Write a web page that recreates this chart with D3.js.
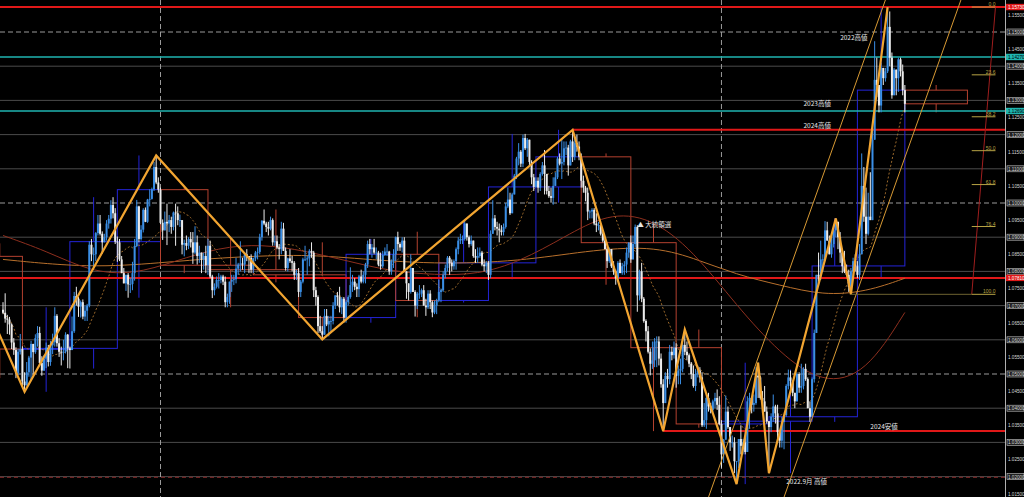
<!DOCTYPE html>
<html><head><meta charset="utf-8">
<script src="https://cdn.jsdelivr.net/npm/d3@7"></script>
<style>html,body{margin:0;padding:0;background:#000;overflow:hidden}svg{display:block}</style>
</head><body><svg id="c" width="1024" height="497"></svg>
<script>
// ---------------- DATA ----------------
// EURUSD daily candles [high, low, close]; open = previous close
const firstOpen = 1.0688;
const candles = [
// 2023-09 (19th..)
[1.0710,1.0675,1.0679],[1.0736,1.0650,1.0662],[1.0673,1.0617,1.0659],[1.0667,1.0615,1.0645],[1.0648,1.0573,1.0592],[1.0605,1.0556,1.0570],[1.0578,1.0488,1.0502],[1.0574,1.0496,1.0565],[1.0617,1.0557,1.0573],
// 2023-10
[1.0581,1.0465,1.0478],[1.0505,1.0448,1.0467],[1.0535,1.0466,1.0505],[1.0553,1.0492,1.0548],[1.0597,1.0482,1.0588],[1.0578,1.0495,1.0564],[1.0616,1.0559,1.0605],[1.0640,1.0580,1.0620],[1.0638,1.0525,1.0532],[1.0552,1.0495,1.0510],[1.0556,1.0509,1.0545],[1.0592,1.0517,1.0577],[1.0585,1.0522,1.0535],[1.0597,1.0524,1.0584],[1.0618,1.0558,1.0593],[1.0695,1.0580,1.0670],[1.0675,1.0580,1.0590],[1.0605,1.0550,1.0565],[1.0580,1.0525,1.0563],[1.0600,1.0540,1.0565],[1.0622,1.0560,1.0615],[1.0617,1.0517,1.0575],
// 2023-11
[1.0580,1.0516,1.0570],[1.0668,1.0570,1.0625],[1.0740,1.0620,1.0728],[1.0755,1.0700,1.0720],[1.0725,1.0667,1.0697],[1.0715,1.0665,1.0710],[1.0718,1.0660,1.0668],[1.0700,1.0655,1.0685],[1.0705,1.0655,1.0700],[1.0888,1.0695,1.0878],[1.0895,1.0830,1.0850],[1.0870,1.0810,1.0850],[1.0915,1.0830,1.0912],[1.0965,1.0905,1.0940],[1.0965,1.0905,1.0910],[1.0917,1.0852,1.0885],[1.0910,1.0885,1.0900],[1.0950,1.0890,1.0940],[1.0965,1.0925,1.0954],[1.1008,1.0940,1.0994],[1.1017,1.0955,1.0970],[1.0985,1.0880,1.0887],
// 2023-12
[1.0902,1.0828,1.0885],[1.0895,1.0830,1.0835],[1.0845,1.0795,1.0795],[1.0810,1.0765,1.0765],[1.0790,1.0743,1.0790],[1.0795,1.0723,1.0762],[1.0780,1.0737,1.0763],[1.0828,1.0745,1.0795],[1.0895,1.0773,1.0874],[1.1009,1.0871,1.0990],[1.0992,1.0885,1.0895],[1.0935,1.0890,1.0922],[1.0985,1.0914,1.0980],[1.0987,1.0944,1.0945],[1.1012,1.0942,1.1010],[1.1040,1.0990,1.1012],[1.1045,1.1010,1.1040],[1.1120,1.1035,1.1105],[1.1139,1.1055,1.1060],[1.1075,1.1030,1.1039],
// 2024-01
[1.1045,1.0938,1.0942],[1.0952,1.0892,1.0920],[1.0975,1.0924,1.0945],[1.0998,1.0877,1.0940],[1.0965,1.0915,1.0950],[1.0960,1.0910,1.0930],[1.0975,1.0920,1.0972],[1.0998,1.0875,1.0970],[1.0990,1.0935,1.0950],[1.0966,1.0930,1.0950],[1.0945,1.0850,1.0878],[1.0893,1.0844,1.0883],[1.0905,1.0862,1.0875],[1.0900,1.0865,1.0895],[1.0915,1.0870,1.0885],[1.0915,1.0822,1.0855],[1.0932,1.0850,1.0885],[1.0905,1.0820,1.0845],[1.0875,1.0825,1.0855],[1.0848,1.0795,1.0835],[1.0855,1.0805,1.0845],[1.0875,1.0795,1.0818],
// 2024-02
[1.0895,1.0790,1.0875],[1.0890,1.0780,1.0785],[1.0790,1.0722,1.0745],[1.0765,1.0730,1.0755],[1.0785,1.0750,1.0775],[1.0795,1.0750,1.0775],[1.0790,1.0765,1.0785],[1.0790,1.0760,1.0770],[1.0785,1.0695,1.0710],[1.0735,1.0695,1.0725],[1.0770,1.0705,1.0770],[1.0790,1.0740,1.0775],[1.0790,1.0760,1.0777],[1.0840,1.0765,1.0808],[1.0825,1.0790,1.0820],[1.0888,1.0800,1.0823],[1.0840,1.0805,1.0820],[1.0855,1.0795,1.0850],[1.0865,1.0830,1.0845],[1.0845,1.0795,1.0840],[1.0850,1.0795,1.0805],
// 2024-03
[1.0840,1.0795,1.0838],[1.0860,1.0830,1.0855],[1.0870,1.0835,1.0857],[1.0910,1.0850,1.0900],[1.0950,1.0890,1.0948],[1.0981,1.0935,1.0940],[1.0945,1.0915,1.0930],[1.0945,1.0905,1.0925],[1.0960,1.0920,1.0950],[1.0955,1.0875,1.0885],[1.0905,1.0875,1.0888],[1.0905,1.0865,1.0870],[1.0880,1.0835,1.0865],[1.0945,1.0850,1.0925],[1.0942,1.0860,1.0860],[1.0870,1.0802,1.0810],[1.0840,1.0800,1.0838],[1.0865,1.0825,1.0830],[1.0845,1.0800,1.0825],[1.0830,1.0775,1.0790],[1.0805,1.0775,1.0795],
// 2024-04
[1.0810,1.0725,1.0740],[1.0775,1.0725,1.0770],[1.0840,1.0765,1.0835],[1.0875,1.0830,1.0835],[1.0845,1.0790,1.0838],[1.0865,1.0815,1.0860],[1.0885,1.0840,1.0855],[1.0860,1.0725,1.0745],[1.0755,1.0700,1.0725],[1.0730,1.0620,1.0640],[1.0670,1.0620,1.0625],[1.0640,1.0601,1.0615],[1.0690,1.0615,1.0670],[1.0690,1.0640,1.0645],[1.0670,1.0610,1.0655],[1.0670,1.0625,1.0655],[1.0710,1.0645,1.0700],[1.0730,1.0690,1.0730],[1.0740,1.0700,1.0725],[1.0755,1.0680,1.0695],[1.0725,1.0675,1.0720],[1.0725,1.0650,1.0665],
// 2024-05
[1.0715,1.0650,1.0710],[1.0730,1.0700,1.0725],[1.0812,1.0720,1.0760],[1.0790,1.0740,1.0770],[1.0780,1.0745,1.0755],[1.0765,1.0725,1.0748],[1.0790,1.0725,1.0785],[1.0805,1.0765,1.0770],[1.0800,1.0765,1.0790],[1.0825,1.0765,1.0820],[1.0890,1.0810,1.0880],[1.0895,1.0850,1.0865],[1.0880,1.0840,1.0870],[1.0895,1.0850,1.0855],[1.0870,1.0835,1.0855],[1.0860,1.0815,1.0820],[1.0855,1.0805,1.0815],[1.0860,1.0810,1.0848],[1.0870,1.0845,1.0858],[1.0880,1.0845,1.0858],[1.0860,1.0790,1.0800],[1.0835,1.0790,1.0830],[1.0865,1.0810,1.0850],
// 2024-06
[1.0902,1.0830,1.0900],[1.0916,1.0860,1.0880],[1.0885,1.0860,1.0870],[1.0900,1.0855,1.0890],[1.0900,1.0800,1.0800],[1.0790,1.0720,1.0765],[1.0765,1.0715,1.0740],[1.0850,1.0735,1.0810],[1.0810,1.0745,1.0740],[1.0745,1.0668,1.0700],[1.0740,1.0690,1.0735],[1.0760,1.0720,1.0735],[1.0750,1.0725,1.0745],[1.0760,1.0700,1.0700],[1.0720,1.0670,1.0695],[1.0745,1.0690,1.0735],[1.0745,1.0690,1.0710],[1.0715,1.0666,1.0680],[1.0715,1.0675,1.0700],[1.0720,1.0675,1.0715],
// 2024-07
[1.0775,1.0710,1.0740],[1.0750,1.0710,1.0745],[1.0800,1.0740,1.0790],[1.0820,1.0780,1.0810],[1.0845,1.0800,1.0840],[1.0845,1.0790,1.0825],[1.0835,1.0800,1.0815],[1.0835,1.0805,1.0830],[1.0870,1.0805,1.0865],[1.0900,1.0850,1.0890],[1.0910,1.0880,1.0895],[1.0905,1.0880,1.0895],[1.0948,1.0890,1.0940],[1.0940,1.0890,1.0900],[1.0905,1.0870,1.0880],[1.0905,1.0875,1.0890],[1.0890,1.0840,1.0845],[1.0865,1.0825,1.0840],[1.0870,1.0825,1.0845],[1.0870,1.0840,1.0855],[1.0860,1.0815,1.0820],[1.0835,1.0800,1.0815],[1.0830,1.0795,1.0825],
// 2024-08
[1.0830,1.0775,1.0790],[1.0920,1.0780,1.0910],[1.1008,1.0910,1.0955],[1.0965,1.0920,1.0930],[1.0945,1.0905,1.0925],[1.0940,1.0885,1.0920],[1.0935,1.0905,1.0915],[1.0940,1.0905,1.0930],[1.1000,1.0925,1.0990],[1.1045,1.0985,1.1010],[1.1030,1.0965,1.0970],[1.1030,1.0970,1.1025],[1.1085,1.1025,1.1080],[1.1135,1.1070,1.1130],[1.1175,1.1110,1.1150],[1.1155,1.1105,1.1115],[1.1200,1.1105,1.1190],[1.1202,1.1155,1.1160],[1.1190,1.1135,1.1185],[1.1185,1.1105,1.1120],[1.1125,1.1055,1.1075],[1.1085,1.1035,1.1047],
// 2024-09
[1.1075,1.1045,1.1065],[1.1075,1.1030,1.1045],[1.1090,1.1035,1.1085],[1.1120,1.1080,1.1110],[1.1155,1.1025,1.1085],[1.1085,1.1025,1.1035],[1.1050,1.1015,1.1020],[1.1045,1.1001,1.1015],[1.1075,1.0995,1.1050],[1.1090,1.1055,1.1075],[1.1135,1.1070,1.1130],[1.1145,1.1110,1.1115],[1.1190,1.1070,1.1120],[1.1180,1.1110,1.1160],[1.1180,1.1140,1.1162],[1.1170,1.1080,1.1110],[1.1185,1.1110,1.1180],[1.1214,1.1120,1.1135],[1.1190,1.1125,1.1175],[1.1200,1.1150,1.1165],[1.1180,1.1125,1.1135],
// 2024-10
[1.1145,1.1045,1.1065],[1.1080,1.1030,1.1045],[1.1050,1.1005,1.1030],[1.1045,1.0950,1.0975],[1.0980,1.0955,1.0975],[1.0985,1.0955,1.0980],[1.0985,1.0935,1.0940],[1.0970,1.0915,1.0935],[1.0945,1.0920,1.0935],[1.0935,1.0905,1.0910],[1.0915,1.0885,1.0890],[1.0895,1.0865,1.0865],[1.0870,1.0810,1.0830],[1.0870,1.0825,1.0865],[1.0865,1.0810,1.0815],[1.0830,1.0790,1.0800],[1.0805,1.0761,1.0780],[1.0830,1.0775,1.0825],[1.0835,1.0800,1.0795],[1.0825,1.0790,1.0815],[1.0830,1.0790,1.0820],[1.0870,1.0795,1.0855],[1.0885,1.0840,1.0884],
// 2024-11
[1.0905,1.0825,1.0835],[1.0905,1.0860,1.0880],[1.0937,1.0870,1.0930],[1.0935,1.0682,1.0730],[1.0805,1.0715,1.0800],[1.0825,1.0710,1.0720],[1.0725,1.0650,1.0655],[1.0660,1.0595,1.0625],[1.0640,1.0560,1.0565],[1.0575,1.0496,1.0530],[1.0595,1.0515,1.0540],[1.0605,1.0520,1.0595],[1.0610,1.0520,1.0595],[1.0610,1.0525,1.0545],[1.0560,1.0460,1.0470],[1.0485,1.0333,1.0415],[1.0505,1.0425,1.0495],[1.0515,1.0460,1.0485],[1.0585,1.0470,1.0565],[1.0580,1.0540,1.0555],[1.0595,1.0545,1.0577],
// 2024-12
[1.0590,1.0460,1.0495],[1.0525,1.0470,1.0510],[1.0545,1.0470,1.0515],[1.0590,1.0505,1.0585],[1.0630,1.0555,1.0565],[1.0595,1.0540,1.0555],[1.0560,1.0520,1.0530],[1.0535,1.0485,1.0500],[1.0525,1.0460,1.0465],[1.0515,1.0450,1.0500],[1.0525,1.0490,1.0510],[1.0520,1.0475,1.0490],[1.0505,1.0345,1.0350],[1.0415,1.0345,1.0365],[1.0440,1.0340,1.0430],[1.0445,1.0390,1.0405],[1.0415,1.0385,1.0395],[1.0425,1.0390,1.0420],[1.0445,1.0400,1.0430],[1.0455,1.0395,1.0410],[1.0435,1.0350,1.0354],
// 2025-01
[1.0365,1.0226,1.0265],[1.0310,1.0240,1.0308],[1.0437,1.0310,1.0390],[1.0405,1.0340,1.0345],[1.0345,1.0275,1.0300],[1.0320,1.0285,1.0300],[1.0315,1.0210,1.0245],[1.0245,1.0178,1.0245],[1.0310,1.0225,1.0310],[1.0350,1.0265,1.0290],[1.0310,1.0265,1.0300],[1.0315,1.0265,1.0272],[1.0435,1.0275,1.0420],[1.0445,1.0340,1.0430],[1.0430,1.0385,1.0410],[1.0440,1.0390,1.0415],[1.0520,1.0410,1.0495],[1.0533,1.0430,1.0490],[1.0495,1.0425,1.0430],[1.0450,1.0385,1.0420],[1.0465,1.0395,1.0390],[1.0405,1.0355,1.0362],
// 2025-02
[1.0345,1.0210,1.0345],[1.0385,1.0330,1.0375],[1.0440,1.0360,1.0405],[1.0410,1.0355,1.0385],[1.0410,1.0300,1.0330],[1.0335,1.0285,1.0305],[1.0375,1.0285,1.0360],[1.0380,1.0280,1.0380],[1.0470,1.0375,1.0465],[1.0513,1.0455,1.0490],[1.0510,1.0450,1.0480],[1.0480,1.0435,1.0445],[1.0445,1.0400,1.0420],[1.0505,1.0420,1.0500],[1.0505,1.0445,1.0460],[1.0530,1.0445,1.0465],[1.0520,1.0455,1.0515],[1.0530,1.0480,1.0485],[1.0490,1.0400,1.0400],[1.0420,1.0360,1.0375],
// 2025-03
[1.0490,1.0380,1.0485],[1.0630,1.0475,1.0620],[1.0790,1.0620,1.0790],[1.0855,1.0760,1.0785],[1.0890,1.0775,1.0835],[1.0850,1.0800,1.0835],[1.0947,1.0830,1.0920],[1.0945,1.0890,1.0890],[1.0905,1.0850,1.0850],[1.0905,1.0840,1.0880],[1.0925,1.0870,1.0920],[1.0955,1.0900,1.0945],[1.0945,1.0865,1.0900],[1.0915,1.0825,1.0855],[1.0860,1.0795,1.0815],[1.0860,1.0795,1.0800],[1.0820,1.0785,1.0790],[1.0805,1.0740,1.0755],[1.0810,1.0733,1.0800],[1.0840,1.0780,1.0830],[1.0850,1.0800,1.0815],
// 2025-04
[1.0830,1.0780,1.0790],[1.0880,1.0775,1.0850],[1.1145,1.0850,1.1050],[1.1105,1.0945,1.0960],[1.1045,1.0880,1.0910],[1.1030,1.0905,1.0960],[1.1090,1.0955,1.0950],[1.1215,1.0955,1.1185],[1.1473,1.1190,1.1360],[1.1425,1.1310,1.1345],[1.1340,1.1265,1.1285],[1.1410,1.1265,1.1395],[1.1395,1.1345,1.1365],[1.1395,1.1355,1.1385],[1.1573,1.1380,1.1515],[1.1560,1.1400,1.1425],[1.1440,1.1305,1.1315],[1.1395,1.1320,1.1390],[1.1390,1.1315,1.1365],[1.1425,1.1325,1.1420],[1.1425,1.1370,1.1385],[1.1405,1.1315,1.1330],
// 2025-05
[1.1345,1.1265,1.1290]
];

// Monthly candle boxes (bar index of month start; last entry = end of May in future bars)
const monthStarts = [-12, 9, 31, 53, 73, 95, 116, 137, 159, 182, 202, 225, 247, 268, 291, 312, 333, 355, 375, 396, 418, 447];
const mOpen  = [1.0844,1.0573,1.0575,1.0887,1.1039,1.0818,1.0805,1.0790,1.0665,1.0850,1.0715,1.0825,1.1047,1.1135,1.0884,1.0577,1.0354,1.0362,1.0375,1.0816,1.1330];
const mHigh  = [1.0882,1.0695,1.1017,1.1139,1.1046,1.0898,1.0981,1.0885,1.0895,1.0916,1.0948,1.1202,1.1214,1.1145,1.0937,1.0630,1.0533,1.0513,1.0955,1.1573,1.1345];
const mLow   = [1.0488,1.0448,1.0516,1.0723,1.0795,1.0695,1.0768,1.0601,1.0650,1.0666,1.0709,1.0777,1.1001,1.0761,1.0333,1.0343,1.0178,1.0210,1.0360,1.0778,1.1265];
const mClose = [1.0573,1.0575,1.0887,1.1039,1.0818,1.0805,1.0790,1.0665,1.0850,1.0715,1.0825,1.1047,1.1135,1.0884,1.0577,1.0354,1.0362,1.0375,1.0816,1.1330,1.1290];

// Zigzag pivots [bar index, price]
const zigzag = [[-20,1.0880],[10,1.0448],[71,1.1139],[148,1.0601],[264,1.1214],[306,1.0333],[316,1.0630],[340,1.0178],[350,1.0533],[355,1.0210],[386,1.0955],[393,1.0733],[410,1.1573]];

// Parallel channel lines [[index, price],[index, price]]
const channels = [[[327,1.0140],[409,1.1594]],[[362,1.0140],[444,1.1594]]];

// Moving averages sampled [bar index, price]
const ma100 = [[0,1.0905],[20,1.0860],[40,1.0800],[60,1.0790],[80,1.0830],[100,1.0870],[120,1.0880],[140,1.0860],[160,1.0830],[180,1.0800],[200,1.0790],[220,1.0790],[240,1.0830],[260,1.0900],[280,1.0970],[300,1.0960],[320,1.0860],[340,1.0700],[360,1.0560],[380,1.0470],[400,1.0500],[418,1.0680]];
const ma200 = [[0,1.0835],[40,1.0810],[73,1.0825],[100,1.0840],[137,1.0850],[160,1.0840],[200,1.0820],[240,1.0830],[270,1.0860],[300,1.0875],[320,1.0840],[340,1.0790],[360,1.0760],[380,1.0730],[400,1.0740],[418,1.0780]];
const maPeriod = 20;

// Horizontal price levels
const gridPrices = d3.range(102, 116).map(v => v / 100);
const majorGrid = [1.05, 1.10, 1.15];
const yearStarts = [73, 333];
const levels = [
  {p: 1.1573, kind: "red", from: null},
  {p: 1.1427, kind: "cyan", from: null},
  {p: 1.1269, kind: "cyan", from: null},
  {p: 1.1214, kind: "red", from: 264},
  {p: 1.0781, kind: "red", from: null},
  {p: 1.0333, kind: "red", from: 306},
  {p: 1.0198, kind: "dash", from: null}
];
const notes = [
  {text: "2022高値", i: 388, p: 1.1500, dy: 8},
  {text: "2023高値", i: 371, p: 1.1269, dy: -5},
  {text: "2024高値", i: 371, p: 1.1214, dy: -2},
  {text: "2024安値", i: 402, p: 1.0333, dy: -2},
  {text: "2022.9月 高値", i: 363, p: 1.0198, dy: 7},
  {text: "▲ 大統領選", i: 294, p: 1.0937, dy: 2}
];
const fibRatios = [0, 23.6, 38.2, 50.0, 61.8, 76.4, 100.0];
const fibLabels = ["0.0", "23.6", "38.2", "50.0", "61.8", "76.4", "100.0"];
const fibAnchor = {i0: 449, low: 1.0733, i1: 460, high: 1.1573, lowBar: 393};
const axisTicks = d3.range(203, 232).map(v => v / 200);
const axisTags = [{p: 1.1573, kind: "red"}, {p: 1.1427, kind: "cyan"}, {p: 1.1269, kind: "cyan"}, {p: 1.0781, kind: "red"}];

// ---------------- DRAW ----------------
const W = 1024, H = 497, PR = 1005;
const svg = d3.select("#c");
svg.append("rect").attr("width", W).attr("height", H).attr("fill", "#000");
svg.append("clipPath").attr("id", "clip").append("rect").attr("width", PR).attr("height", H);
const x = d3.scaleLinear().domain([0, 410]).range([3, 887.6]);
const y = d3.scaleLinear().domain([1.02, 1.15]).range([476.6, 32]);
const g = svg.append("g").attr("clip-path", "url(#clip)");

const COL = {red: "#e01818", cyan: "#1fb5b0", dash: "#8a2a2a", bull: "#3b8fe6", bear: "#ececec",
  boxBull: "#2424d8", boxBear: "#b4412f", zig: "#f2a531", chan: "#d89a34", fib: "#b8a445"};

// grid
g.selectAll(".hg").data(gridPrices).join("line")
  .attr("x1", 0).attr("x2", PR).attr("y1", d => y(d)).attr("y2", d => y(d))
  .attr("stroke", d => majorGrid.some(m => Math.abs(m - d) < 1e-6) ? "#9a9a9a" : "#4a4a4a")
  .attr("stroke-dasharray", d => majorGrid.some(m => Math.abs(m - d) < 1e-6) ? "5,3" : null)
  .attr("stroke-width", 1);
g.selectAll(".vg").data(yearStarts).join("line")
  .attr("x1", d => x(d)).attr("x2", d => x(d)).attr("y1", 0).attr("y2", H)
  .attr("stroke", "#9a9a9a").attr("stroke-dasharray", "5,3");

// monthly boxes
const months = mOpen.map((o, k) => ({o, h: mHigh[k], l: mLow[k], c: mClose[k], a: monthStarts[k], b: monthStarts[k + 1]}));
const mb = g.append("g");
months.forEach(m => {
  const col = m.c >= m.o ? COL.boxBull : COL.boxBear;
  const x0 = x(m.a), x1 = x(m.b), xm = (x0 + x1) / 2;
  const top = Math.max(m.o, m.c), bot = Math.min(m.o, m.c);
  mb.append("rect").attr("x", x0).attr("y", y(top)).attr("width", x1 - x0).attr("height", Math.max(1, y(bot) - y(top)))
    .attr("fill", "none").attr("stroke", col).attr("stroke-width", 1);
  mb.append("line").attr("x1", xm).attr("x2", xm).attr("y1", y(m.h)).attr("y2", y(top)).attr("stroke", col);
  mb.append("line").attr("x1", xm).attr("x2", xm).attr("y1", y(bot)).attr("y2", y(m.l)).attr("stroke", col);
});

// levels
g.selectAll(".lv").data(levels).join("line")
  .attr("x1", d => d.from == null ? 0 : x(d.from)).attr("x2", PR)
  .attr("y1", d => y(d.p)).attr("y2", d => y(d.p))
  .attr("stroke", d => COL[d.kind])
  .attr("stroke-width", d => d.kind === "red" ? 2 : (d.kind === "cyan" ? 1.5 : 1))
  .attr("stroke-dasharray", d => d.kind === "dash" ? "4,3" : null);

// moving averages
const line = d3.line().x(d => x(d[0])).y(d => y(d[1])).curve(d3.curveBasis);
g.append("path").attr("d", line(ma200)).attr("fill", "none").attr("stroke", "#b8702c").attr("stroke-width", 1);
g.append("path").attr("d", line(ma100)).attr("fill", "none").attr("stroke", "#8e2f1e").attr("stroke-width", 1);
const closes = candles.map(c => c[2]);
const sma = closes.map((c, i) => { const s = closes.slice(Math.max(0, i - maPeriod + 1), i + 1); return [i, d3.mean(s)]; });
g.append("path").attr("d", d3.line().x(d => x(d[0])).y(d => y(d[1]))(sma)).attr("fill", "none")
  .attr("stroke", "#9c6a2c").attr("stroke-width", 1).attr("stroke-dasharray", "2,2");

// candles
const bars = candles.map((c, i) => {
  const o = i === 0 ? firstOpen : candles[i - 1][2];
  return {i, o, h: Math.max(c[0], o, c[2]), l: Math.min(c[1], o, c[2]), c: c[2]};
});
const cg = g.append("g");
cg.selectAll(".wk").data(bars).join("line")
  .attr("x1", d => x(d.i)).attr("x2", d => x(d.i)).attr("y1", d => y(d.h)).attr("y2", d => y(d.l))
  .attr("stroke", d => d.c >= d.o ? COL.bull : COL.bear).attr("stroke-width", 1);
cg.selectAll(".bd").data(bars).join("rect")
  .attr("x", d => x(d.i) - 1).attr("width", 2)
  .attr("y", d => y(Math.max(d.o, d.c))).attr("height", d => Math.max(0.8, Math.abs(y(d.o) - y(d.c))))
  .attr("fill", d => d.c >= d.o ? COL.bull : COL.bear);

// channel lines
g.selectAll(".ch").data(channels).join("line")
  .attr("x1", d => x(d[0][0])).attr("y1", d => y(d[0][1])).attr("x2", d => x(d[1][0])).attr("y2", d => y(d[1][1]))
  .attr("stroke", COL.chan).attr("stroke-width", 1);

// zigzag
g.append("path").attr("d", d3.line().x(d => x(d[0])).y(d => y(d[1]))(zigzag))
  .attr("fill", "none").attr("stroke", COL.zig).attr("stroke-width", 2.2).attr("stroke-linejoin", "miter");

// fibonacci
const fr = fibAnchor.high - fibAnchor.low;
g.append("line").attr("x1", x(fibAnchor.i0)).attr("y1", y(fibAnchor.low)).attr("x2", x(fibAnchor.i1)).attr("y2", y(fibAnchor.high))
  .attr("stroke", "#a01e1e").attr("stroke-width", 1);
g.append("line").attr("x1", x(fibAnchor.lowBar)).attr("x2", x(fibAnchor.i0)).attr("y1", y(fibAnchor.low)).attr("y2", y(fibAnchor.low))
  .attr("stroke", "#6e6330").attr("stroke-width", 1);
fibRatios.forEach((r, k) => {
  const p = fibAnchor.high - fr * r / 100;
  g.append("line").attr("x1", x(fibAnchor.i0)).attr("x2", x(fibAnchor.i1)).attr("y1", y(p)).attr("y2", y(p))
    .attr("stroke", COL.fib).attr("stroke-width", 1);
  g.append("text").attr("x", x(fibAnchor.i1)).attr("y", y(p) - 1).attr("text-anchor", "end")
    .attr("font-family", "Liberation Sans, Arial, sans-serif").attr("font-size", 5).attr("fill", COL.fib).text(fibLabels[k]);
});

// notes
g.selectAll(".nt").data(notes).join("text")
  .attr("x", d => x(d.i)).attr("y", d => y(d.p) + d.dy)
  .attr("font-family", "Noto Sans CJK JP, sans-serif").attr("font-size", 6.5).attr("fill", "#e6e6e6").text(d => d.text);

// right axis
const ax = svg.append("g").attr("transform", `translate(${PR},0)`);
ax.append("line").attr("x1", 0.5).attr("x2", 0.5).attr("y1", 0).attr("y2", H).attr("stroke", "#b0b0b0");
const isMajor = d => Math.abs(Math.round(d * 100) - d * 100) < 1e-6;
ax.selectAll(".tb").data(axisTicks.filter(isMajor)).join("rect")
  .attr("x", 2).attr("y", d => y(d) - 3).attr("width", 17).attr("height", 6)
  .attr("fill", "#202020").attr("stroke", "#c8c8c8").attr("stroke-width", 0.6);
const axis = d3.axisRight(y).tickValues(axisTicks).tickFormat(d3.format(".5f")).tickSize(0).tickPadding(3);
ax.append("g").call(axis).call(s => s.select(".domain").remove())
  .call(s => s.selectAll("text").attr("font-size", 4.6).attr("fill", "#d8d8d8").attr("font-family", "Liberation Sans, Arial, sans-serif"));
axisTags.forEach(t => {
  ax.append("rect").attr("x", 1).attr("y", y(t.p) - 3.2).attr("width", 19).attr("height", 6.4).attr("fill", COL[t.kind]);
  ax.append("text").attr("x", 3).attr("y", y(t.p) + 1.7).attr("font-size", 4.6).attr("font-family", "Liberation Sans, Arial, sans-serif")
    .attr("fill", t.kind === "red" ? "#fff" : "#000").text(d3.format(".5f")(t.p));
});
</script></body></html>
